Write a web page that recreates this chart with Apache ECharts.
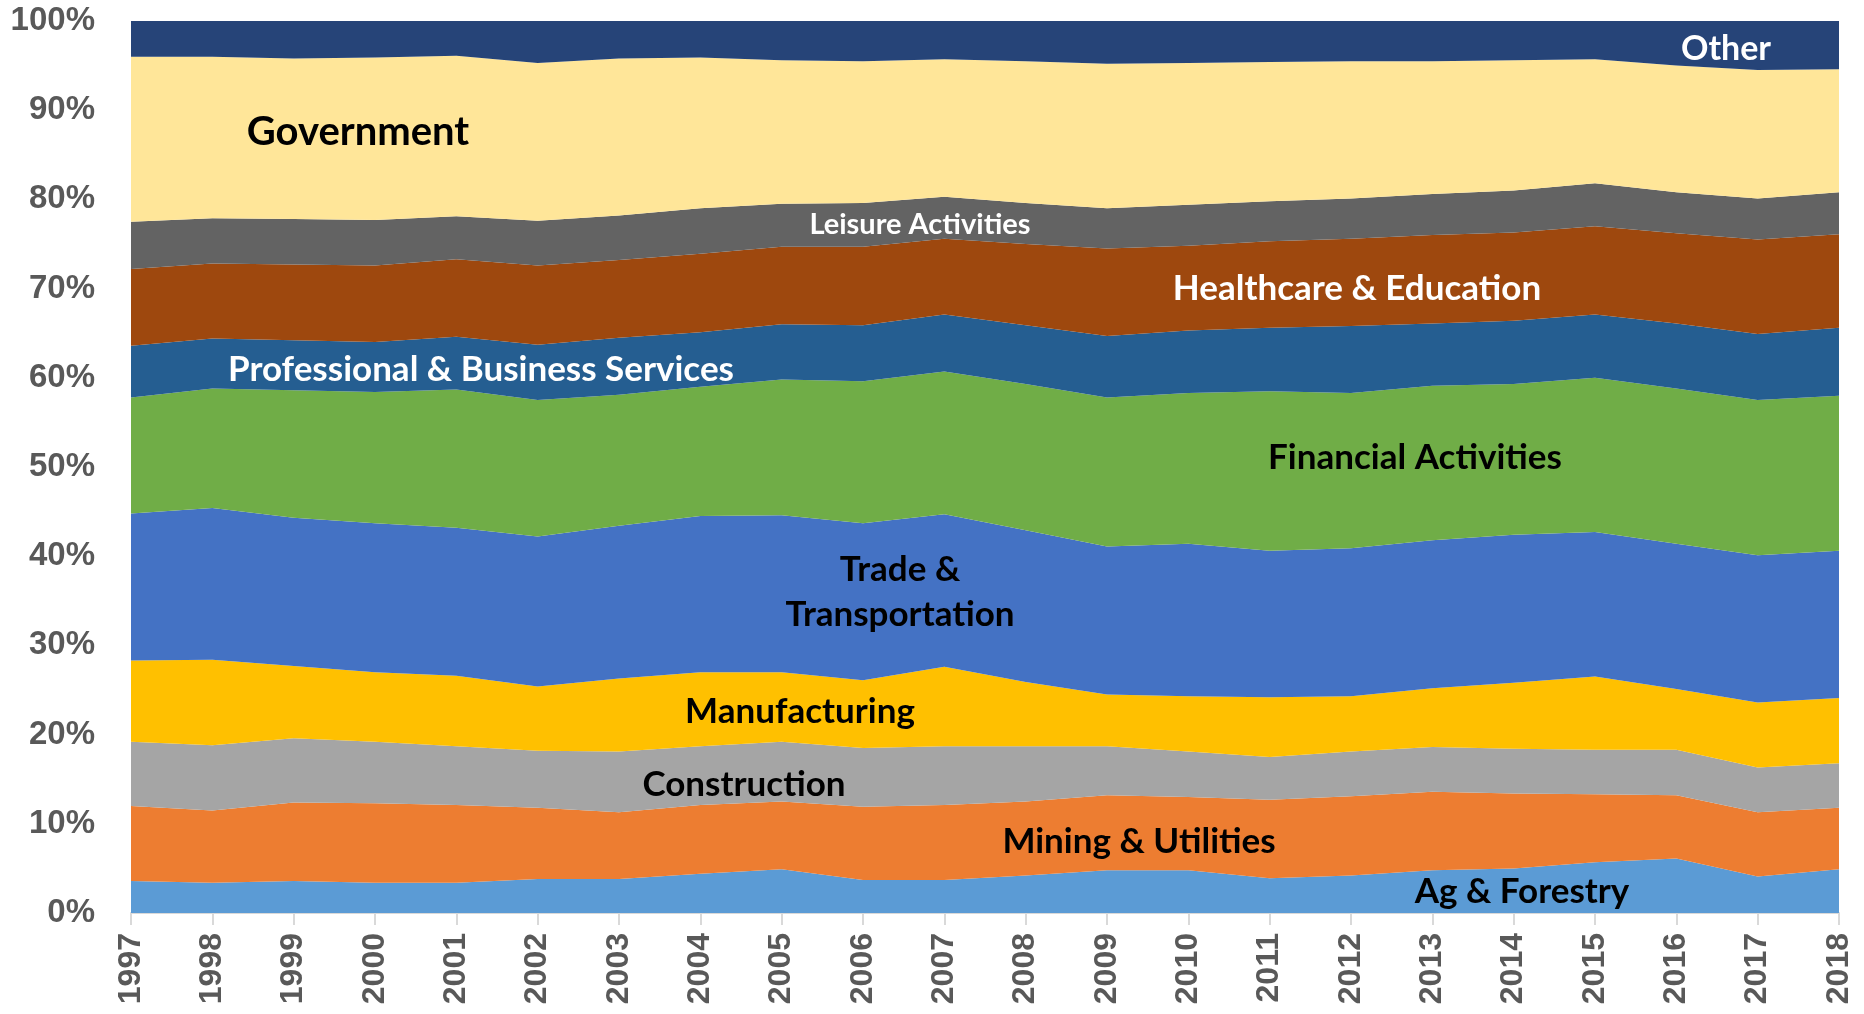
<!DOCTYPE html>
<html>
<head>
<meta charset="utf-8">
<script src="https://cdn.jsdelivr.net/npm/echarts@6/dist/echarts.min.js"></script>
<style>
html,body{margin:0;padding:0;background:#fff;}
#chart{width:1864px;height:1014px;}
</style>
</head>
<body>
<div id="chart"></div>
<script>
// ---- data (shares of total, %) ----
const years = ['1997','1998','1999','2000','2001','2002','2003','2004','2005','2006','2007','2008','2009','2010','2011','2012','2013','2014','2015','2016','2017','2018'];
const agForestry     = [3.6,3.4,3.6,3.4,3.4,3.8,3.8,4.4,4.9,3.7,3.7,4.2,4.8,4.8,3.9,4.2,4.8,5.0,5.7,6.1,4.1,4.9];
const miningUtil     = [8.4,8.1,8.8,8.9,8.7,8.0,7.5,7.7,7.6,8.2,8.4,8.3,8.4,8.2,8.8,8.9,8.8,8.4,7.6,7.1,7.2,6.9];
const construction   = [7.2,7.3,7.2,6.9,6.6,6.4,6.8,6.6,6.7,6.6,6.6,6.2,5.5,5.1,4.8,5.0,5.0,5.0,5.0,5.1,5.0,5.0];
const manufacturing  = [9.1,9.6,8.1,7.8,7.9,7.2,8.2,8.3,7.8,7.6,8.9,7.2,5.8,6.2,6.7,6.2,6.6,7.4,8.2,6.8,7.3,7.3];
const tradeTransport = [16.5,17.0,16.6,16.7,16.6,16.8,17.1,17.5,17.6,17.6,17.1,17.0,16.6,17.1,16.4,16.6,16.6,16.6,16.2,16.3,16.5,16.5];
const financial      = [13.0,13.4,14.3,14.7,15.5,15.3,14.7,14.5,15.2,15.9,16.0,16.4,16.7,16.9,17.9,17.4,17.3,16.9,17.3,17.4,17.4,17.4];
const professional   = [5.8,5.6,5.6,5.6,5.9,6.2,6.4,6.1,6.2,6.3,6.4,6.6,6.9,7.0,7.1,7.5,7.0,7.1,7.1,7.3,7.4,7.6];
const healthEdu      = [8.6,8.4,8.5,8.6,8.7,8.9,8.7,8.8,8.7,8.8,8.5,9.1,9.8,9.5,9.7,9.8,9.9,9.9,9.9,10.1,10.6,10.5];
const leisure        = [5.3,5.1,5.1,5.1,4.8,5.0,5.0,5.1,4.8,4.9,4.7,4.6,4.5,4.6,4.5,4.5,4.6,4.7,4.8,4.6,4.6,4.7];
const government     = [18.5,18.1,18.0,18.2,18.0,17.7,17.6,16.9,16.1,15.9,15.4,15.9,16.2,15.9,15.6,15.4,14.9,14.6,13.9,14.2,14.4,13.8];
const other          = [4.0,4.0,4.2,4.1,3.9,4.7,4.2,4.1,4.4,4.5,4.3,4.5,4.8,4.7,4.6,4.5,4.5,4.4,4.3,5.0,5.5,5.4];
const yTicks = [0,10,20,30,40,50,60,70,80,90,100];

const seriesDefs = [
  {name:'Ag & Forestry', data:agForestry, color:'#5B9BD5'},
  {name:'Mining & Utilities', data:miningUtil, color:'#ED7D31'},
  {name:'Construction', data:construction, color:'#A5A5A5'},
  {name:'Manufacturing', data:manufacturing, color:'#FFC000'},
  {name:'Trade & Transportation', data:tradeTransport, color:'#4472C4'},
  {name:'Financial Activities', data:financial, color:'#70AD47'},
  {name:'Professional & Business Services', data:professional, color:'#255E91'},
  {name:'Healthcare & Education', data:healthEdu, color:'#9E480E'},
  {name:'Leisure Activities', data:leisure, color:'#636363'},
  {name:'Government', data:government, color:'#FFE699'},
  {name:'Other', data:other, color:'#264478'}
];

const annFont = 'Lato, "Liberation Sans", sans-serif';
function ann(text, x, y, fill, size){
  return {type:'text', x:x, y:y, z:100, silent:true,
    style:{text:text, fill:fill, font:'bold '+size+'px '+annFont, align:'center', verticalAlign:'middle'}};
}

const chart = echarts.init(document.getElementById('chart'), null, {renderer:'canvas'});
chart.setOption({
  animation:false,
  backgroundColor:'#ffffff',
  grid:{left:131, right:25, top:21, bottom:101, containLabel:false},
  xAxis:{
    type:'category', data:years, boundaryGap:false,
    axisLine:{show:true, lineStyle:{color:'#D9D9D9', width:2}},
    axisTick:{show:true, length:12, lineStyle:{color:'#D9D9D9', width:2}},
    axisLabel:{rotate:90, margin:20, color:'#595959', fontSize:32, fontWeight:'bold', fontFamily:'"Liberation Sans", Arial, sans-serif'}
  },
  yAxis:{
    type:'value', min:yTicks[0], max:yTicks[yTicks.length-1], interval:10,
    axisLine:{show:false}, axisTick:{show:false}, splitLine:{show:false},
    axisLabel:{margin:36, color:'#595959', fontSize:33, fontWeight:'bold', fontFamily:'"Liberation Sans", Arial, sans-serif', formatter:'{value}%'}
  },
  series: seriesDefs.map(s => ({
    name:s.name, type:'line', stack:'total', data:s.data, symbol:'none',
    lineStyle:{width:0}, areaStyle:{color:s.color, opacity:1}, itemStyle:{color:s.color}
  })),
  graphic: [
    ann('Government', 358, 132, '#000000', 40),
    ann('Other', 1726, 49, '#ffffff', 34),
    ann('Leisure Activities', 920, 225, '#ffffff', 29),
    ann('Healthcare & Education', 1357, 289, '#ffffff', 35),
    ann('Professional & Business Services', 481, 370, '#ffffff', 35),
    ann('Financial Activities', 1415, 458, '#000000', 35),
    ann('Trade &', 900, 570, '#000000', 35),
    ann('Transportation', 900, 615, '#000000', 35),
    ann('Manufacturing', 800, 712, '#000000', 35),
    ann('Construction', 744, 785, '#000000', 35),
    ann('Mining & Utilities', 1139, 842, '#000000', 35),
    ann('Ag & Forestry', 1522, 892, '#000000', 35)
  ]
});
</script>
</body>
</html>
